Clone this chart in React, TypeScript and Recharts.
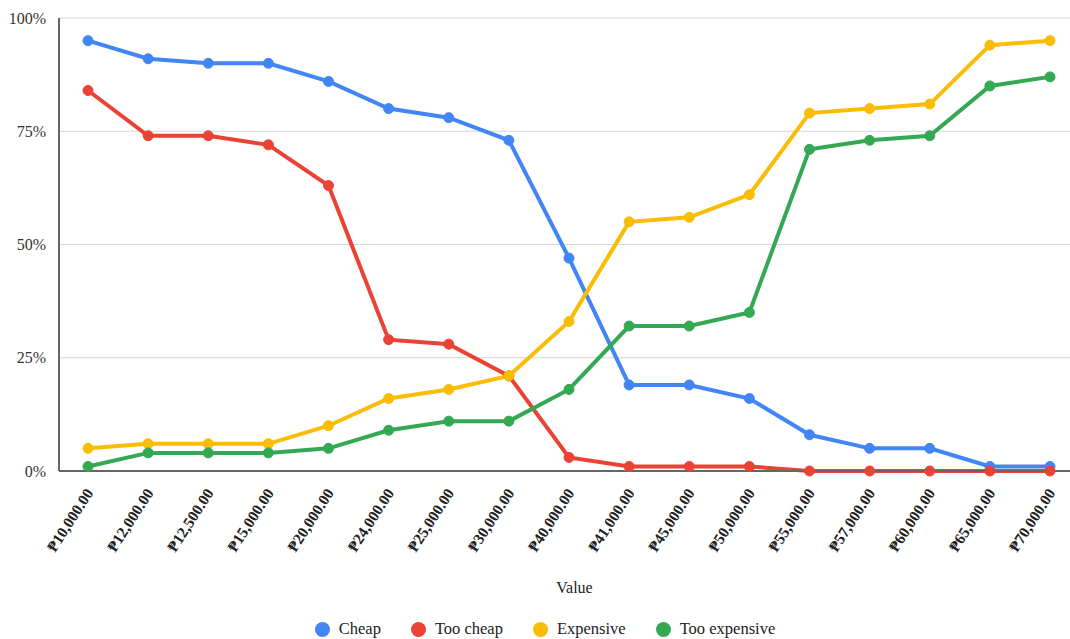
import React from "react";
import { CartesianGrid, Label, Legend, Line, LineChart, XAxis, YAxis } from "recharts";

const prices = [
  "₱10,000.00", "₱12,000.00", "₱12,500.00", "₱15,000.00", "₱20,000.00", "₱24,000.00",
  "₱25,000.00", "₱30,000.00", "₱40,000.00", "₱41,000.00", "₱45,000.00", "₱50,000.00",
  "₱55,000.00", "₱57,000.00", "₱60,000.00", "₱65,000.00", "₱70,000.00",
];
const cheap = [95, 91, 90, 90, 86, 80, 78, 73, 47, 19, 19, 16, 8, 5, 5, 1, 1];
const tooCheap = [84, 74, 74, 72, 63, 29, 28, 21, 3, 1, 1, 1, 0, 0, 0, 0, 0];
const expensive = [5, 6, 6, 6, 10, 16, 18, 21, 33, 55, 56, 61, 79, 80, 81, 94, 95];
const tooExpensive = [1, 4, 4, 4, 5, 9, 11, 11, 18, 32, 32, 35, 71, 73, 74, 85, 87];
const yTicks = [0, 25, 50, 75, 100];

const series = [
  { key: "cheap", name: "Cheap", color: "#4285F4" },
  { key: "tooCheap", name: "Too cheap", color: "#EA4335" },
  { key: "expensive", name: "Expensive", color: "#FBBC04" },
  { key: "tooExpensive", name: "Too expensive", color: "#34A853" },
];

const data = prices.map((price, i) => ({
  price,
  cheap: cheap[i],
  tooCheap: tooCheap[i],
  expensive: expensive[i],
  tooExpensive: tooExpensive[i],
}));

const FONT = "'Liberation Serif', 'DejaVu Serif', serif";

const PriceTick = ({ x, y, payload }: any) => (
  <text
    x={x + 6}
    y={y + 14}
    textAnchor="end"
    transform={`rotate(-57, ${x + 6}, ${y + 14})`}
    fontFamily={FONT}
    fontSize={15.5}
    fontWeight={600}
    fill="#222"
  >
    {payload.value}
  </text>
);

const renderLegend = () => (
  <div
    style={{
      display: "flex",
      justifyContent: "center",
      gap: 30,
      marginTop: 16,
      fontFamily: FONT,
      fontSize: 16.5,
      color: "#222",
    }}
  >
    {series.map((s) => (
      <div key={s.key} style={{ display: "flex", alignItems: "center", gap: 9 }}>
        <span
          style={{
            display: "inline-block",
            width: 15,
            height: 15,
            borderRadius: "50%",
            background: s.color,
          }}
        />
        <span>{s.name}</span>
      </div>
    ))}
  </div>
);

export default function App() {
  return (
    <div style={{ position: "absolute", left: 0, top: 0, width: 1070, height: 639, overflow: "hidden", background: "#fff" }}>
      <LineChart width={1090} height={639} data={data} margin={{ top: 18, right: 0, bottom: 0, left: 0 }}>
        <CartesianGrid vertical={false} stroke="#d6d6d6" />
        <XAxis
          dataKey="price"
          interval={0}
          height={132}
          padding={{ left: 29, right: 40 }}
          tick={<PriceTick />}
          tickLine={false}
          axisLine={{ stroke: "#666", strokeWidth: 2 }}
        >
          <Label
            value="Value"
            position="insideBottom"
            offset={10}
            style={{ fontFamily: FONT, fontSize: 16, fill: "#222" }}
          />
        </XAxis>
        <YAxis
          width={59}
          domain={[0, 100]}
          ticks={yTicks}
          tickFormatter={(v) => `${v}%`}
          tickLine={false}
          axisLine={{ stroke: "#666", strokeWidth: 2 }}
          tick={{ fontFamily: FONT, fontSize: 16, fill: "#333" }}
          tickMargin={7}
        />
        <Legend verticalAlign="bottom" height={36} content={renderLegend} />
        {series.map((s) => (
          <Line
            key={s.key}
            dataKey={s.key}
            name={s.name}
            stroke={s.color}
            strokeWidth={4}
            dot={{ r: 5, fill: s.color, stroke: s.color, strokeWidth: 1 }}
            activeDot={false}
            isAnimationActive={false}
          />
        ))}
      </LineChart>
    </div>
  );
}
